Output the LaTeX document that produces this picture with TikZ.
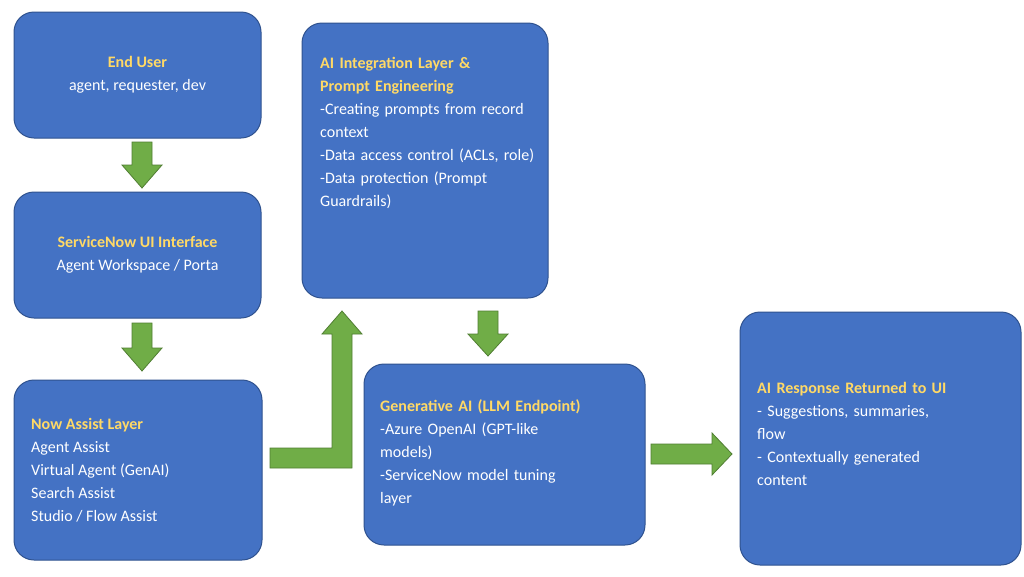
\documentclass[tikz,border=0pt]{standalone}
\usepackage{fontspec}
\setmainfont{Carlito}
\definecolor{boxf}{HTML}{4472C4}
\definecolor{boxd}{HTML}{2F528F}
\definecolor{ttl}{HTML}{FFD966}
\definecolor{grn}{HTML}{70AD47}
\definecolor{grnd}{HTML}{507E32}
\begin{document}
\begin{tikzpicture}[x=1pt,y=-1pt,
  box/.style={draw=boxd,line width=1pt,fill=boxf,rounded corners=20pt},
  txt/.style={text=white,font=\fontsize{16}{23}\selectfont,inner sep=0pt},
  arr/.style={fill=grn,draw=grnd,line width=0.8pt},
  t/.style={text=ttl,font=\bfseries}]
\useasboundingbox (0,0) rectangle (1024,576);
\fill[white] (0,0) rectangle (1024,576);
\draw[box] (14,12) rectangle (261,138);
\draw[box] (14,192) rectangle (261,318);
\draw[box] (14,380) rectangle (262,560);
\draw[box] (302,23) rectangle (548,298);
\draw[box] (364,364) rectangle (645,545);
\draw[box] (740,312) rectangle (1021,565);
\node[txt,align=center] (n1) at (137.5,75) {{\color{ttl}\bfseries End User}\\agent, requester, dev};
\node[txt,align=center] (n2) at (137.5,255) {{\color{ttl}\bfseries ServiceNow UI Interface}\\Agent Workspace / Porta};
\node[txt,align=left,anchor=west] (n3) at (31,470) {{\color{ttl}\bfseries Now Assist Layer}\\Agent Assist\\Virtual Agent (GenAI)\\Search Assist\\Studio / Flow Assist};
\node[txt,align=left,anchor=north west,text width=215pt] (n4) at (320,57) {{\color{ttl}\bfseries AI Integration Layer \&\\Prompt Engineering}\\-Creating prompts from record context\\-Data access control (ACLs, role)\\-Data protection (Prompt Guardrails)};
\node[txt,align=left,anchor=north west,text width=250pt] (n5) at (380,399) {{\color{ttl}\bfseries Generative AI (LLM Endpoint)}\\-Azure OpenAI (GPT-like\\models)\\-ServiceNow model tuning\\layer};
\node[txt,align=left,anchor=west,text width=250pt] (n6) at (757,434) {{\color{ttl}\bfseries AI Response Returned to UI}\\- Suggestions, summaries,\\flow\\- Contextually generated\\content};
\draw[arr] (132,142) -- (152,142) -- (152,165) -- (162,165) -- (142,188) -- (122,165) -- (132,165) -- cycle;
\draw[arr] (132,323) -- (152,323) -- (152,348) -- (162,348) -- (142,371) -- (122,348) -- (132,348) -- cycle;
\draw[arr] (478,311) -- (498,311) -- (498,334) -- (508,334) -- (488,356) -- (468,334) -- (478,334) -- cycle;
\draw[arr] (651,444) -- (712,444) -- (712,433) -- (732,454) -- (712,475) -- (712,464) -- (651,464) -- cycle;
\draw[arr] (270,448) -- (332,448) -- (332,334) -- (322,334) -- (342,311) -- (362,334) -- (352,334) -- (352,468) -- (270,468) -- cycle;
\end{tikzpicture}
\end{document}
